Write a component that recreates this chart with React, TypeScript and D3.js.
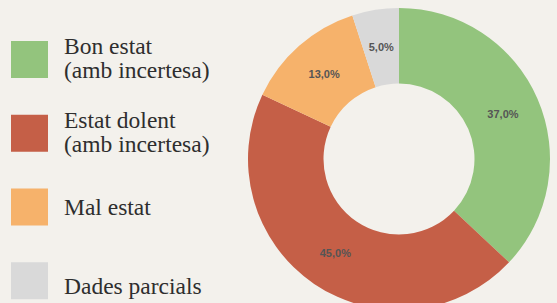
import React, { useEffect, useRef } from "react";
import * as d3 from "d3";

const categories = ["Bon estat (amb incertesa)", "Estat dolent (amb incertesa)", "Mal estat", "Dades parcials"];
const legendLines = [["Bon estat", "(amb incertesa)"], ["Estat dolent", "(amb incertesa)"], ["Mal estat"], ["Dades parcials"]];
const values = [37, 45, 13, 5];
const colors = ["#93c47d", "#c55f47", "#f6b26b", "#d9d9d9"];

const width = 557;
const height = 303;

export default function App() {
  const ref = useRef<SVGSVGElement>(null);

  useEffect(() => {
    if (!ref.current) return;
    const svg = d3.select(ref.current);
    svg.selectAll("*").remove();

    svg.append("rect").attr("width", width).attr("height", height).attr("fill", "#f3f1ec");

    const cx = 399;
    const cy = 159;
    const outer = 151;
    const inner = 75.5;

    const pie = d3.pie<number>().sort(null).value((d) => d);
    const arc = d3.arc<d3.PieArcDatum<number>>().innerRadius(inner).outerRadius(outer);
    const arcs = pie(values);

    const g = svg.append("g").attr("transform", `translate(${cx},${cy})`);
    g.selectAll("path")
      .data(arcs)
      .join("path")
      .attr("d", arc)
      .attr("fill", (_, i) => colors[i]);

    const fmt = (v: number) => v.toFixed(1).replace(".", ",") + "%";
    g.selectAll("text")
      .data(arcs)
      .join("text")
      .attr("transform", (d) => `translate(${arc.centroid(d)})`)
      .attr("text-anchor", "middle")
      .attr("dy", "0.35em")
      .attr("font-family", "Liberation Sans, Arial, sans-serif")
      .attr("font-weight", "bold")
      .attr("font-size", 11)
      .attr("fill", "#555")
      .text((d) => fmt(d.data));

    // legend
    const legendY = d3.scaleBand<string>().domain(categories).range([41, 336]);
    const lg = svg
      .append("g")
      .selectAll("g")
      .data(categories)
      .join("g")
      .attr("transform", (d) => `translate(11,${legendY(d)})`);

    lg.append("rect")
      .attr("width", 37)
      .attr("height", 37)
      .attr("fill", (_, i) => colors[i]);

    lg.append("text")
      .attr("font-family", "Liberation Serif, Times New Roman, serif")
      .attr("font-size", 23.5)
      .attr("fill", "#2e2e2e")
      .selectAll("tspan")
      .data((_, i) => legendLines[i].map((t) => ({ t, n: legendLines[i].length, last: i === 3 })))
      .join("tspan")
      .attr("x", 53)
      .attr("y", (d, j) => (d.n === 2 ? 13 + j * 24 : d.last ? 32 : 26))
      .text((d) => d.t);
  }, []);

  return (
    <svg
      ref={ref}
      width={width}
      height={height}
      style={{ position: "absolute", top: 0, left: 0, display: "block" }}
    />
  );
}
